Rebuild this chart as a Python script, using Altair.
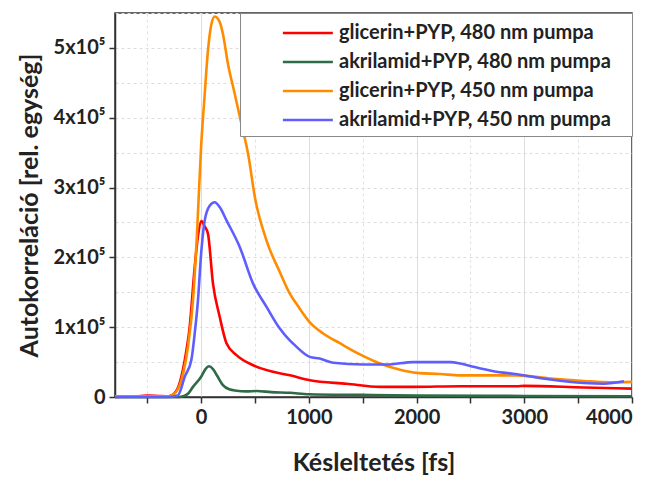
import altair as alt
import pandas as pd

series_names = [
    "glicerin+PYP, 480 nm pumpa",
    "akrilamid+PYP, 480 nm pumpa",
    "glicerin+PYP, 450 nm pumpa",
    "akrilamid+PYP, 450 nm pumpa",
]
series_colors = ["#ff0000", "#2f6b46", "#ff8c00", "#5e5eff"]

# values in units of 1e5
red_x = [-800, -600, -500, -400, -300, -265, -200, -150, -107, -60, -30, 2, 30, 63, 110, 172, 235, 328, 483, 669, 824, 1009, 1350, 1660, 1970, 2405, 2933, 3000, 3553, 4000]
red_y = [0.0, 0.01, 0.02, 0.015, 0.01, 0.03, 0.2, 0.55, 1.0, 1.86, 2.3, 2.52, 2.45, 2.34, 1.62, 1.15, 0.77, 0.6, 0.455, 0.36, 0.31, 0.24, 0.19, 0.145, 0.145, 0.155, 0.155, 0.16, 0.136, 0.12]

green_x = [-800, -200, -170, -120, -76, 0, 40, 72, 110, 150, 202, 260, 328, 420, 514, 650, 824, 1000, 1500, 2000, 3000, 4000]
green_y = [0.0, 0.0, 0.01, 0.05, 0.145, 0.29, 0.4, 0.44, 0.4, 0.3, 0.17, 0.11, 0.09, 0.08, 0.085, 0.07, 0.06, 0.04, 0.03, 0.02, 0.015, 0.01]

orange_x = [-800, -500, -300, -246, -184, -123, -76, -40, 0, 33, 63, 95, 126, 172, 202, 249, 312, 374, 436, 500, 607, 730, 823, 900, 1009, 1133, 1288, 1474, 1660, 1847, 2002, 2219, 2405, 2600, 2933, 3242, 3553, 3800, 4000]
orange_y = [0.01, 0.01, 0.01, 0.05, 0.24, 0.72, 1.38, 2.3, 3.6, 4.34, 4.96, 5.34, 5.45, 5.37, 5.2, 4.77, 4.34, 3.91, 3.48, 2.85, 2.24, 1.79, 1.48, 1.3, 1.07, 0.91, 0.77, 0.61, 0.48, 0.39, 0.345, 0.33, 0.31, 0.31, 0.31, 0.265, 0.23, 0.21, 0.216]

blue_x = [-800, -300, -218, -150, -91, -60, -30, 2, 33, 79, 126, 172, 235, 358, 483, 607, 730, 823, 854, 1009, 1100, 1226, 1505, 1722, 1970, 2157, 2312, 2405, 2498, 2715, 2933, 3242, 3553, 3740, 3926]
blue_y = [0.0, 0.0, 0.02, 0.3, 0.53, 0.91, 1.38, 2.1, 2.53, 2.74, 2.79, 2.72, 2.53, 2.15, 1.62, 1.29, 0.98, 0.81, 0.765, 0.575, 0.55, 0.49, 0.465, 0.465, 0.5, 0.5, 0.5, 0.48, 0.445, 0.37, 0.326, 0.25, 0.2, 0.19, 0.225]

rows = []
for i, (xs, ys) in enumerate([(red_x, red_y), (green_x, green_y), (orange_x, orange_y), (blue_x, blue_y)]):
    for j, (xv, yv) in enumerate(zip(xs, ys)):
        rows.append({"delay": xv, "value": yv * 1e5, "series": series_names[i], "order": i, "idx": j})
df = pd.DataFrame(rows)

FONT = "Lato"
BLANK = "\u2800"  # invisible, non-trimmed filler to widen the legend box on the right

x_ticks = list(range(-500, 4001, 500))
y_ticks = [i * 50000 for i in range(0, 12)]

chart = alt.Chart(df).mark_line(strokeWidth=2.6, interpolate="monotone").encode(
    x=alt.X("delay:Q", scale=alt.Scale(domain=[-800, 4000], nice=False, zero=False),
            axis=alt.Axis(title="Késleltetés [fs]", values=x_ticks,
                          labelExpr="datum.value % 1000 === 0 ? format(datum.value, 'd') : ''",
                          gridDash={"condition": {"test": "datum.value % 1000 === 0", "value": []}, "value": [3, 3]},
                          gridColor={"condition": {"test": "datum.value % 1000 === 0", "value": "#dddddd"}, "value": "#e2e2e2"},
                          titlePadding=23)),
    y=alt.Y("value:Q", scale=alt.Scale(domain=[0, 550000], nice=False),
            axis=alt.Axis(title="Autokorreláció [rel. egység]", values=y_ticks,
                          labelExpr="datum.value === 0 ? '0' : (datum.value % 100000 === 0 ? format(datum.value/100000, 'd') + 'x10⁵' : '')",
                          tickOpacity={"condition": {"test": "datum.value % 100000 === 0", "value": 1}, "value": 0},
                          gridDash=[3, 3], gridColor="#dddddd", titlePadding=11)),
    color=alt.Color("series:N", scale=alt.Scale(domain=series_names, range=series_colors),
                    legend=alt.Legend(title=None, orient="top-right", offset=0,
                                      fillColor="white", strokeColor="#888888",
                                      padding=6, rowPadding=5,
                                      symbolType="M1.83,0H5.83", symbolSize=625,
                                      symbolStrokeWidth=2.6, labelOffset=65,
                                      labelFontSize=20, labelFont=FONT,
                                      labelFontWeight="bold", labelColor="#222222", labelLimit=500,
                                      labelExpr="datum.label + '" + BLANK + "'")),
    order=alt.Order("idx:Q"),
    detail="order:N",
).properties(
    width=517, height=384,
    autosize=alt.AutoSizeParams(type="none"),
    padding={"left": 107, "top": 5, "right": 18, "bottom": 80},
).configure_view(
    stroke="#333333", strokeWidth=1.5
).configure_axis(
    labelFont=FONT, labelFontSize=20, labelFontWeight="bold", labelColor="#222222",
    titleFont=FONT, titleFontSize=25, titleFontWeight="bold", titleColor="#222222",
    domainColor="#333333", domainWidth=1.5, tickColor="#333333", tickWidth=1.5, tickSize=6,
    labelPadding=4,
)

chart.save("out.html", embed_options={"renderer": "svg", "actions": False})
